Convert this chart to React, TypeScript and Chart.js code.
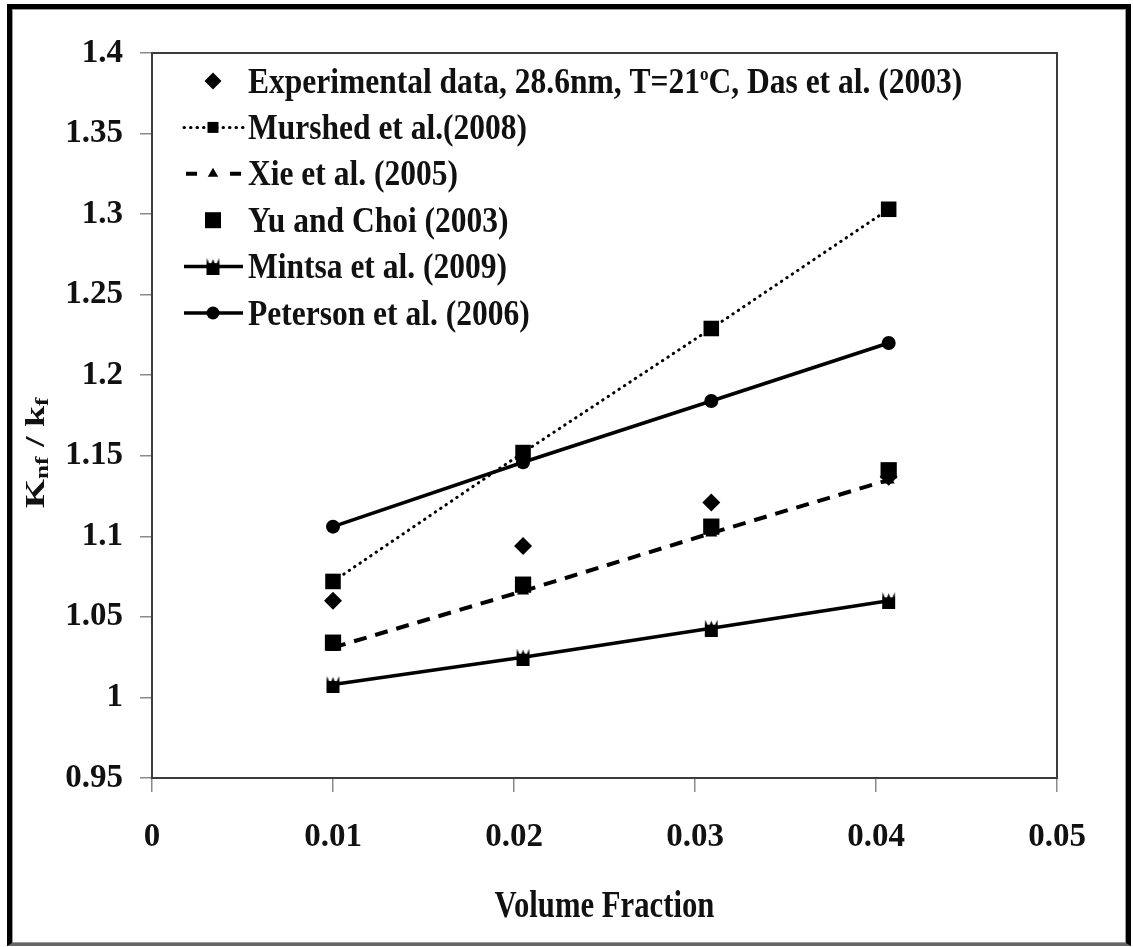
import React, { useEffect, useRef } from 'react';
import { Chart, registerables } from 'chart.js';

Chart.register(...registerables);

// Volume fraction of the nanoparticles (x) and conductivity ratio knf/kf (y)
const volumeFraction = [0.01, 0.0205, 0.0309, 0.0407];
const experimental = [1.06, 1.094, 1.121, 1.137];
const murshed = [1.072, 1.152, 1.229, 1.303];
const xie = [1.031, 1.066, 1.102, 1.135];
const yuChoi = [1.034, 1.07, 1.106, 1.141];
const mintsa = [1.008, 1.025, 1.043, 1.06];
const peterson = [1.106, 1.146, 1.184, 1.22];

const seriesNames = [
  'Experimental data, 28.6nm, T=21ºC, Das et al. (2003)',
  'Murshed et al.(2008)',
  'Xie et al. (2005)',
  'Yu and Choi (2003)',
  'Mintsa et al. (2009)',
  'Peterson et al. (2006)',
];

const xTicks = [0, 0.01, 0.02, 0.03, 0.04, 0.05];
const yTicks = [0.95, 1, 1.05, 1.1, 1.15, 1.2, 1.25, 1.3, 1.35, 1.4];
const xTitle = 'Volume Fraction';

const FONT = '"Liberation Serif", "Times New Roman", serif';
const INK = '#111';

const fmt = (v: number) => String(Number(Number(v).toFixed(3)));
const pts = (ys: number[]) => ys.map((y, i) => ({ x: volumeFraction[i], y }));

// Small "star" marker: a filled block with a crown of spikes on top
function makeStarMarker(): HTMLCanvasElement {
  const c = document.createElement('canvas');
  c.width = 15;
  c.height = 17;
  const g = c.getContext('2d')!;
  g.fillStyle = '#000';
  g.fillRect(1, 5, 13, 12);
  g.beginPath();
  g.moveTo(1, 6); g.lineTo(1.5, 0); g.lineTo(4, 6);
  g.moveTo(5.5, 6); g.lineTo(7.5, 1); g.lineTo(9.5, 6);
  g.moveTo(11, 6); g.lineTo(13.5, 0); g.lineTo(14, 6);
  g.fill();
  return c;
}

type Seg = { text: string; size: number; dy: number };

function drawSegs(ctx: CanvasRenderingContext2D, segs: Seg[], x: number, y: number, sx: number, center = false) {
  ctx.save();
  let total = 0;
  for (const s of segs) {
    ctx.font = `bold ${s.size}px ${FONT}`;
    total += ctx.measureText(s.text).width;
  }
  ctx.translate(x, y);
  ctx.scale(sx, 1);
  ctx.fillStyle = INK;
  ctx.textBaseline = 'alphabetic';
  ctx.textAlign = 'left';
  let cx = center ? -total / 2 : 0;
  for (const s of segs) {
    ctx.font = `bold ${s.size}px ${FONT}`;
    ctx.fillText(s.text, cx, s.dy);
    cx += ctx.measureText(s.text).width;
  }
  ctx.restore();
}

function markerPath(ctx: CanvasRenderingContext2D, style: string, x: number, y: number, r: number) {
  ctx.beginPath();
  if (style === 'diamond') {
    ctx.moveTo(x, y - r); ctx.lineTo(x + r, y); ctx.lineTo(x, y + r); ctx.lineTo(x - r, y); ctx.closePath();
  } else if (style === 'square') {
    ctx.rect(x - r, y - r, 2 * r, 2 * r);
  } else if (style === 'triangle') {
    ctx.moveTo(x, y - r); ctx.lineTo(x + r * 0.87, y + r * 0.5); ctx.lineTo(x - r * 0.87, y + r * 0.5); ctx.closePath();
  } else {
    ctx.arc(x, y, r, 0, Math.PI * 2);
  }
  ctx.fillStyle = '#000';
  ctx.fill();
}

// Legend rows: line style and marker for each series
const legendStyle = [
  { line: null as number[] | null, width: 0, marker: 'diamond', r: 8.5 },
  { line: [0.5, 6], width: 3, marker: 'square', r: 5.5 },
  { line: [10, 24], width: 4, marker: 'triangle', r: 6 },
  { line: null, width: 0, marker: 'square', r: 8 },
  { line: [], width: 3.5, marker: 'star', r: 0 },
  { line: [], width: 3.5, marker: 'circle', r: 6.5 },
];

export default function App() {
  const ref = useRef<HTMLCanvasElement>(null);

  useEffect(() => {
    const star = makeStarMarker();

    const framePlugin = {
      id: 'plotFrame',
      beforeDatasetsDraw(chart: any) {
        const { ctx, chartArea: a } = chart;
        ctx.save();
        ctx.strokeStyle = '#3c3c3c';
        ctx.lineWidth = 2;
        ctx.strokeRect(a.left, a.top, a.right - a.left, a.bottom - a.top);
        ctx.restore();
      },
    };

    const legendPlugin = {
      id: 'insideLegend',
      afterDraw(chart: any) {
        const { ctx, chartArea: a } = chart;
        const lineX0 = a.left + 32;
        const lineX1 = a.left + 91;
        const mx = a.left + 61;
        const tx = a.left + 96;
        seriesNames.forEach((name, i) => {
          const cy = a.top + 28 + i * 46.4;
          const st = legendStyle[i];
          if (st.line) {
            ctx.save();
            ctx.strokeStyle = '#000';
            ctx.lineWidth = st.width;
            ctx.lineCap = st.line.length && st.line[0] < 1 ? 'round' : 'butt';
            ctx.setLineDash(st.line);
            if (i === 2) {
              ctx.setLineDash([]);
              ctx.beginPath();
              ctx.moveTo(lineX0 + 2, cy); ctx.lineTo(lineX0 + 13, cy);
              ctx.moveTo(lineX1 - 13, cy); ctx.lineTo(lineX1 - 2, cy);
              ctx.stroke();
            } else {
              ctx.beginPath();
              ctx.moveTo(lineX0, cy);
              ctx.lineTo(lineX1, cy);
              ctx.stroke();
            }
            ctx.restore();
          }
          if (st.marker === 'star') {
            ctx.drawImage(star, mx - star.width / 2, cy - star.height / 2);
          } else {
            markerPath(ctx, st.marker, mx, cy, st.r);
          }
          const size = 35;
          const parts = name.split('º');
          const segs: Seg[] = [{ text: parts[0], size, dy: 0 }];
          if (parts.length > 1) {
            segs.push({ text: 'o', size: 19, dy: -13 });
            segs.push({ text: parts[1], size, dy: 0 });
          }
          drawSegs(ctx, segs, tx, cy + 11.5, 0.9);
        });
      },
    };

    const titlesPlugin = {
      id: 'axisTitles',
      afterDraw(chart: any) {
        const { ctx, chartArea: a } = chart;
        // x-axis title
        drawSegs(ctx, [{ text: xTitle, size: 37, dy: 0 }], (a.left + a.right) / 2, 917, 0.83, true);
        // y-axis title, rotated, with subscripts
        ctx.save();
        ctx.translate(35, 453);
        ctx.rotate(-Math.PI / 2);
        drawSegs(
          ctx,
          [
            { text: 'K', size: 27, dy: 0 },
            { text: 'nf', size: 18, dy: 4 },
            { text: ' / k', size: 27, dy: 0 },
            { text: 'f', size: 18, dy: 4 },
          ],
          0,
          9,
          1.4,
          true
        );
        ctx.restore();
      },
    };

    const tickFont = { family: FONT, size: 33, weight: 'bold' as const };

    const chart = new Chart(ref.current!, {
      type: 'scatter',
      data: {
        datasets: [
          {
            label: seriesNames[0],
            data: pts(experimental),
            showLine: false,
            pointStyle: 'rectRot',
            pointRadius: 9,
            pointBackgroundColor: '#000',
            pointBorderColor: '#000',
            pointBorderWidth: 0,
          },
          {
            label: seriesNames[1],
            data: pts(murshed),
            showLine: true,
            borderColor: '#000',
            borderWidth: 3,
            borderDash: [0.5, 6],
            borderCapStyle: 'round',
            pointStyle: 'rect',
            pointRadius: 11,
            pointBackgroundColor: '#000',
            pointBorderColor: '#000',
            pointBorderWidth: 0,
          },
          {
            label: seriesNames[2],
            data: pts(xie),
            showLine: true,
            borderColor: '#000',
            borderWidth: 4,
            borderDash: [13, 9],
            pointStyle: 'triangle',
            pointRadius: 7,
            pointBackgroundColor: '#000',
            pointBorderColor: '#000',
            pointBorderWidth: 0,
          },
          {
            label: seriesNames[3],
            data: pts(yuChoi),
            showLine: false,
            pointStyle: 'rect',
            pointRadius: 11.5,
            pointBackgroundColor: '#000',
            pointBorderColor: '#000',
            pointBorderWidth: 0,
          },
          {
            label: seriesNames[4],
            data: pts(mintsa),
            showLine: true,
            borderColor: '#000',
            borderWidth: 3.5,
            pointStyle: star as any,
            pointRadius: 8,
            pointBackgroundColor: '#000',
            pointBorderColor: '#000',
          },
          {
            label: seriesNames[5],
            data: pts(peterson),
            showLine: true,
            borderColor: '#000',
            borderWidth: 3.5,
            pointStyle: 'circle',
            pointRadius: 7,
            pointBackgroundColor: '#000',
            pointBorderColor: '#000',
            pointBorderWidth: 0,
          },
        ],
      },
      options: {
        animation: false,
        responsive: false,
        devicePixelRatio: 1,
        layout: { padding: { left: 0, top: 53, right: 76, bottom: 0 } },
        plugins: {
          legend: { display: false },
          tooltip: { enabled: false },
          title: { display: false },
        },
        scales: {
          x: {
            type: 'linear',
            min: 0,
            max: 0.05,
            afterBuildTicks: (s: any) => {
              s.ticks = xTicks.map((value) => ({ value }));
            },
            afterFit: (s: any) => {
              s.height = 169;
            },
            border: { display: false },
            grid: { drawOnChartArea: false, drawTicks: true, tickLength: 14, color: '#8a8a8a', lineWidth: 1.5 },
            ticks: {
              font: tickFont,
              color: INK,
              padding: 26,
              maxRotation: 0,
              autoSkip: false,
              callback: (v: any) => fmt(v),
            },
          },
          y: {
            type: 'linear',
            min: 0.95,
            max: 1.4,
            afterBuildTicks: (s: any) => {
              s.ticks = yTicks.map((value) => ({ value }));
            },
            afterFit: (s: any) => {
              s.width = 152;
            },
            border: { display: false },
            grid: { drawOnChartArea: false, drawTicks: true, tickLength: 12, color: '#8a8a8a', lineWidth: 1.5 },
            ticks: {
              font: tickFont,
              color: INK,
              padding: 17,
              autoSkip: false,
              callback: (v: any) => fmt(v),
            },
          },
        },
      },
      plugins: [framePlugin, legendPlugin, titlesPlugin],
    } as any);

    return () => chart.destroy();
  }, []);

  return (
    <>
      <div
        style={{
          position: 'fixed',
          left: 7,
          top: 4,
          width: 1124,
          height: 942,
          boxSizing: 'border-box',
          borderTop: '5px solid #000',
          borderLeft: '5px solid #000',
          borderRight: '5px solid #000',
          borderBottom: '3px solid #666',
          boxShadow: 'inset 0 0 0 1px #9a9a9a',
          background: '#fff',
        }}
      />
      <canvas
        ref={ref}
        width={1133}
        height={947}
        style={{ position: 'fixed', left: 0, top: 0, width: 1133, height: 947 }}
      />
    </>
  );
}
